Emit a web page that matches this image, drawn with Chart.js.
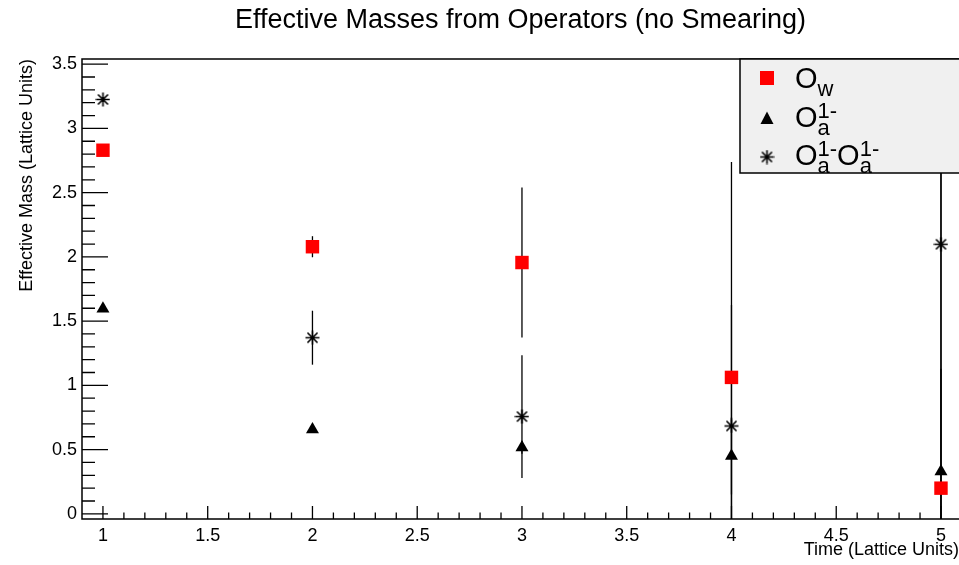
<!DOCTYPE html>
<html>
<head>
<meta charset="utf-8">
<title>Effective Masses from Operators</title>
<script src="https://cdn.jsdelivr.net/npm/chart.js@4.4.1/dist/chart.umd.min.js"></script>
<style>
  body { margin: 0; background: #fff; }
  #wrap { width: 959px; height: 565px; }
</style>
</head>
<body>
<div id="wrap"><canvas id="massChart" width="959" height="565"></canvas></div>
<script>
// time slices and effective masses with their errors
const times = [1, 2, 3, 4, 5];
const owMass = [2.83, 2.079, 1.956, 1.062, 0.2];
const owErr = [0.02, 0.082, 0.583, 1.676, 3.4];
const aMass = [1.596, 0.656, 0.517, 0.451, 0.329];
const aErr = [0.02, 0.02, 0.05, 0.3, 0.8];
const aaMass = [3.225, 1.371, 0.757, 0.684, 2.098];
const aaErr = [0.02, 0.21, 0.478, 0.941, 2.6];

const xTicks = [1, 1.5, 2, 2.5, 3, 3.5, 4, 4.5, 5];
const yTicks = [0, 0.5, 1, 1.5, 2, 2.5, 3, 3.5];

const FONT = '"Liberation Sans", Arial, Helvetica, sans-serif';

function points(ys) {
    return times.map((t, i) => ({ x: t, y: ys[i] }));
}

// asterisk marker: plus and cross
function starImage(size, lw) {
    const c = document.createElement('canvas');
    c.width = c.height = size;
    const g = c.getContext('2d');
    g.strokeStyle = '#000';
    g.lineWidth = lw;
    const m = size / 2, r = size / 2 - 0.5, d = r * 0.72;
    g.beginPath();
    g.moveTo(m - r, m); g.lineTo(m + r, m);
    g.moveTo(m, m - r); g.lineTo(m, m + r);
    g.moveTo(m - d, m - d); g.lineTo(m + d, m + d);
    g.moveTo(m - d, m + d); g.lineTo(m + d, m - d);
    g.stroke();
    return c;
}
const star = starImage(15, 1.6);

// vertical error bars, drawn under the markers
const errorBars = {
    id: 'errorBars',
    beforeDatasetsDraw(chart) {
        const ctx = chart.ctx, a = chart.chartArea, ys = chart.scales.y;
        ctx.save();
        ctx.beginPath();
        ctx.rect(a.left, a.top, a.right - a.left, a.bottom - a.top);
        ctx.clip();
        ctx.strokeStyle = '#000';
        ctx.lineWidth = 1.3;
        chart.data.datasets.forEach((ds, di) => {
            const meta = chart.getDatasetMeta(di);
            meta.data.forEach((pt, i) => {
                const v = ds.data[i].y, e = ds.errors[i];
                ctx.beginPath();
                ctx.moveTo(pt.x, ys.getPixelForValue(v + e));
                ctx.lineTo(pt.x, ys.getPixelForValue(v - e));
                ctx.stroke();
            });
        });
        ctx.restore();
    }
};

// frame with inward major/minor ticks
const frame = {
    id: 'frame',
    afterDatasetsDraw(chart) {
        const ctx = chart.ctx, a = chart.chartArea;
        const xs = chart.scales.x, ys = chart.scales.y;
        ctx.save();
        ctx.strokeStyle = '#000';
        ctx.lineWidth = 1.5;
        ctx.beginPath();
        ctx.moveTo(a.right + 2, a.top);
        ctx.lineTo(a.left, a.top);
        ctx.lineTo(a.left, a.bottom);
        ctx.lineTo(a.right + 2, a.bottom);
        ctx.stroke();

        ctx.lineWidth = 1.3;
        ctx.beginPath();
        for (let k = 9; k <= 51; k++) {
            const px = xs.getPixelForValue(k / 10);
            if (px <= a.left + 1 || px > a.right) continue;
            const len = k % 5 === 0 ? 13 : 6.5;
            ctx.moveTo(px, a.bottom);
            ctx.lineTo(px, a.bottom - len);
        }
        for (let k = 0; k <= 35; k++) {
            const py = ys.getPixelForValue(k / 10);
            const len = k % 5 === 0 ? 26 : 13;
            ctx.moveTo(a.left, py);
            ctx.lineTo(a.left + len, py);
        }
        ctx.stroke();
        ctx.restore();
    }
};

// legend box with sub/superscripted operator names
const legendBox = {
    id: 'legendBox',
    afterDraw(chart) {
        const ctx = chart.ctx;
        ctx.save();
        ctx.fillStyle = '#f0f0f0';
        ctx.fillRect(740, 59, 222, 114);
        ctx.strokeStyle = '#000';
        ctx.lineWidth = 1.5;
        ctx.strokeRect(740, 59, 222, 114);

        const mx = 767;
        ctx.fillStyle = '#ff0000';
        ctx.fillRect(mx - 7, 78 - 7, 14, 14);
        ctx.fillStyle = '#000';
        ctx.beginPath();
        ctx.moveTo(mx, 111.5);
        ctx.lineTo(mx + 6.5, 124);
        ctx.lineTo(mx - 6.5, 124);
        ctx.closePath();
        ctx.fill();
        ctx.drawImage(star, mx - 7.5, 157 - 7.5);

        const big = '29px ' + FONT, small = '22px ' + FONT;
        const entries = [
            { base: 88, groups: [{ main: 'O', sub: 'w' }] },
            { base: 127, groups: [{ main: 'O', sub: 'a', sup: '1-' }] },
            { base: 165, groups: [{ main: 'O', sub: 'a', sup: '1-' }, { main: 'O', sub: 'a', sup: '1-' }] }
        ];
        ctx.textBaseline = 'alphabetic';
        ctx.textAlign = 'left';
        entries.forEach(en => {
            let x = 795;
            en.groups.forEach(g => {
                ctx.font = big;
                ctx.fillText(g.main, x, en.base);
                x += ctx.measureText(g.main).width;
                ctx.font = small;
                let w = 0;
                if (g.sup) {
                    ctx.fillText(g.sup, x, en.base - 9);
                    w = Math.max(w, ctx.measureText(g.sup).width);
                }
                if (g.sub) {
                    ctx.fillText(g.sub, x, en.base + 8);
                    w = Math.max(w, ctx.measureText(g.sub).width);
                }
                x += w;
            });
        });
        ctx.restore();
    }
};

const plainLabel = v => String(v);

const ctx = document.getElementById('massChart').getContext('2d');
const massChart = new Chart(ctx, {
    type: 'scatter',
    data: {
        datasets: [
            {
                label: 'Ow',
                data: points(owMass),
                errors: owErr,
                pointStyle: 'rect',
                pointRadius: 9.5,
                backgroundColor: '#ff0000',
                borderWidth: 0
            },
            {
                label: 'Oa',
                data: points(aMass),
                errors: aErr,
                pointStyle: 'triangle',
                pointRadius: 7.5,
                backgroundColor: '#000',
                borderWidth: 0
            },
            {
                label: 'OaOa',
                data: points(aaMass),
                errors: aaErr,
                pointStyle: star,
                pointRadius: 7.5
            }
        ]
    },
    options: {
        responsive: false,
        animation: false,
        events: [],
        layout: { padding: 0, autoPadding: false },
        plugins: {
            legend: { display: false },
            tooltip: { enabled: false },
            title: {
                display: true,
                fullSize: false,
                text: 'Effective Masses from Operators (no Smearing)',
                color: '#000',
                font: { family: FONT, size: 27, weight: 'normal', lineHeight: 1.2 },
                padding: { top: 4, bottom: 22.6 }
            }
        },
        scales: {
            x: {
                type: 'linear',
                min: 0.9,
                max: 5.086,
                grid: { display: false, drawTicks: false, tickLength: 0 },
                border: { display: false },
                afterBuildTicks: s => { s.ticks = xTicks.map(v => ({ value: v })); },
                afterFit: s => { s.height = 46; s.paddingLeft = 0; s.paddingRight = 0; },
                ticks: {
                    color: '#000',
                    padding: 6,
                    maxRotation: 0,
                    callback: plainLabel,
                    font: { family: FONT, size: 18 }
                },
                title: {
                    display: true,
                    text: 'Time (Lattice Units)',
                    align: 'end',
                    color: '#000',
                    font: { family: FONT, size: 18 },
                    padding: { top: 0, bottom: 4.5 }
                }
            },
            y: {
                type: 'linear',
                min: -0.04,
                max: 3.54,
                grid: { display: false, drawTicks: false, tickLength: 0 },
                border: { display: false },
                afterBuildTicks: s => { s.ticks = yTicks.map(v => ({ value: v })); },
                afterFit: s => { s.width = 82; s.paddingTop = 0; s.paddingBottom = 0; },
                ticks: {
                    color: '#000',
                    padding: 5,
                    callback: plainLabel,
                    font: { family: FONT, size: 18 }
                },
                title: {
                    display: true,
                    text: 'Effective Mass (Lattice Units)',
                    align: 'end',
                    color: '#000',
                    font: { family: FONT, size: 18 },
                    padding: { top: 16, bottom: 0 }
                }
            }
        }
    },
    plugins: [errorBars, frame, legendBox]
});
</script>
</body>
</html>
